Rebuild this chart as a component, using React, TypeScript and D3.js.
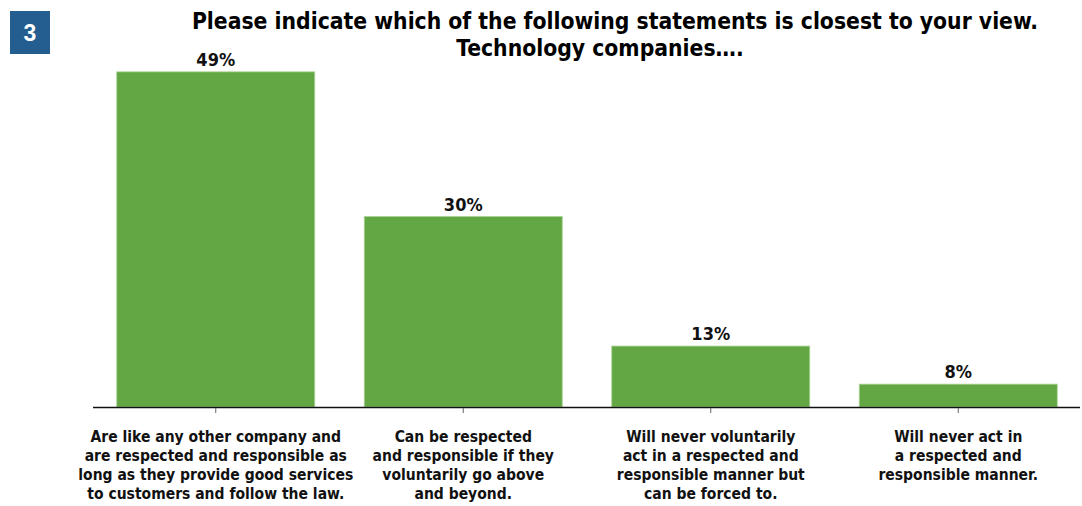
import React from "react";
import * as d3 from "d3";

const categories: string[][] = [
  ["Are like any other company and", "are respected and responsible as", "long as they provide good services", "to customers and follow the law."],
  ["Can be respected", "and responsible if they", "voluntarily go above", "and beyond."],
  ["Will never voluntarily", "act in a respected and", "responsible manner but", "can be forced to."],
  ["Will never act in", "a respected and", "responsible manner."],
];
const values: number[] = [49, 30, 13, 8];
const valueLabels: string[] = ["49%", "30%", "13%", "8%"];
const titleLines: string[] = [
  "Please indicate which of the following statements is closest to your view.",
  "Technology companies….",
];
const badge = "3";

const W = 1082;
const H = 506;
const FONT = "'DejaVu Sans Condensed', 'DejaVu Sans', sans-serif";

export default function App() {
  const ids = categories.map((_, i) => String(i));
  const x = d3.scaleBand<string>().domain(ids).range([92, 1082]).paddingInner(0.2).paddingOuter(0.1);
  const baseY = 407;
  const y = d3.scaleLinear().domain([5, 50]).range([baseY, baseY - 45 * 7.617]);

  return (
    <svg width={W} height={H} style={{ position: "absolute", left: 0, top: 0, background: "#fff" }}>
      <rect x={10} y={11} width={40} height={43} fill="#245e91" />
      <text x={30} y={41} textAnchor="middle" fill="#fff" fontFamily="'Liberation Sans', Arial, sans-serif" fontWeight="bold" fontSize={23}>
        {badge}
      </text>
      {titleLines.map((t, i) => (
        <text key={i} x={i === 0 ? 615 : 600} y={29 + i * 27} textAnchor="middle" fontFamily={FONT} fontWeight="bold" fontSize={22.7} fill="#000">
          {t}
        </text>
      ))}
      {values.map((v, i) => {
        const bx = x(ids[i])!;
        const bw = x.bandwidth();
        return (
          <g key={i}>
            <rect x={bx} y={y(v)} width={bw} height={baseY - y(v)} fill="#63a745" stroke="#a9d392" strokeWidth={0.8} />
            <text x={bx + bw / 2} y={y(v) - 6} textAnchor="middle" fontFamily={FONT} fontWeight="bold" fontSize={18} fill="#111">
              {valueLabels[i]}
            </text>
          </g>
        );
      })}
      <line x1={93} x2={1080} y1={baseY + 0.5} y2={baseY + 0.5} stroke="#111" strokeWidth={1.5} />
      {ids.map((id, i) => {
        const cx = x(id)! + x.bandwidth() / 2;
        return (
          <g key={id}>
            <line x1={cx} x2={cx} y1={baseY + 1} y2={baseY + 6} stroke="#666" strokeWidth={1} />
            <g transform={`translate(${cx},0) scale(0.97,1)`}>
              {categories[i].map((line, j) => (
                <text key={j} x={0} y={442 + j * 19} textAnchor="middle" fontFamily={FONT} fontWeight="bold" fontSize={16} fill="#111">
                  {line}
                </text>
              ))}
            </g>
          </g>
        );
      })}
    </svg>
  );
}
